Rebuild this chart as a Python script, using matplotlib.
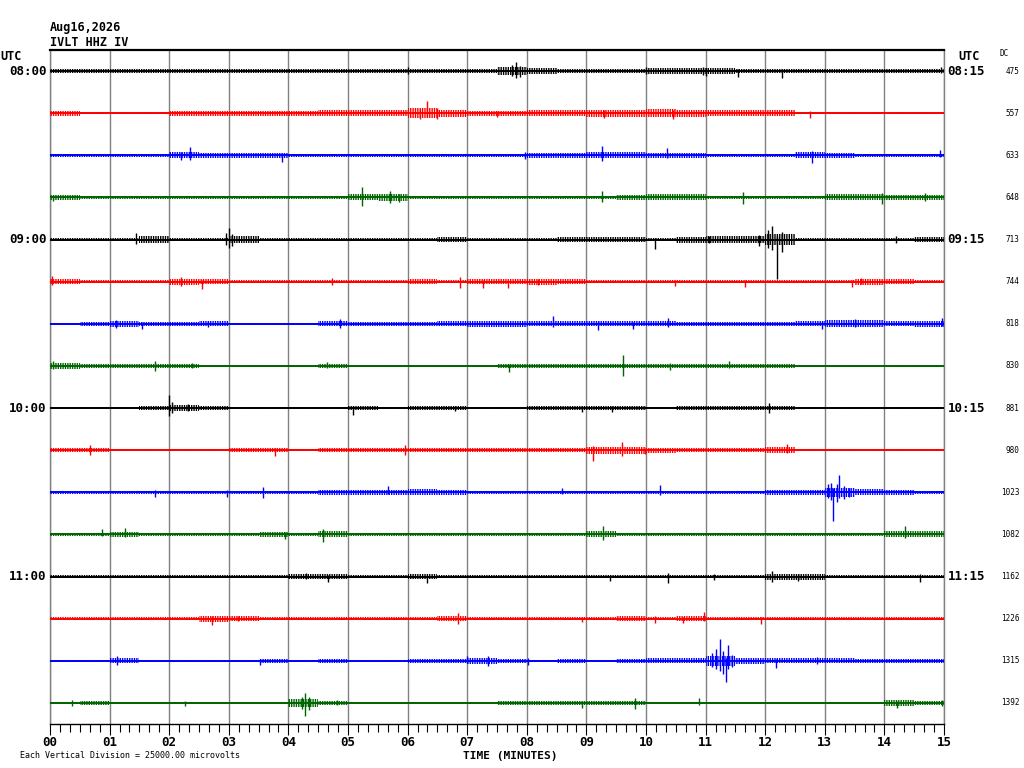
import matplotlib
matplotlib.use("Agg")
import matplotlib.pyplot as plt

# helicorder: IVLT HHZ IV, 15 minutes per line, 4 lines per hour
date_label = "Aug16,2026"
station_label = "IVLT HHZ IV"
left_hours = ["08:00", "09:00", "10:00", "11:00"]
right_hours = ["08:15", "09:15", "10:15", "11:15"]
dc_offsets = [475, 557, 633, 648, 713, 744, 818, 830,
              881, 980, 1023, 1082, 1162, 1226, 1315, 1392]
line_colors = ["black", "red", "blue", "#006400"]
minute_labels = ["%02d" % m for m in range(16)]
scale_note = "Each Vertical Division = 25000.00 microvolts"

# background noise level per half minute (30 bins per line, amplitude in px)
noise = [
    [1.5, 1.5, 1.5, 1.5, 1.5, 1.5, 2, 2, 1.5, 1.5, 1.5, 1.5, 2, 2, 2, 3.5, 2.5, 2, 2, 2, 2.5, 2.5, 2.5, 2, 2, 1.5, 1.5, 1.5, 1.5, 2],
    [2, 1, 1, 1, 2, 2, 2, 2, 2, 2.5, 2.5, 2.5, 4, 3, 2, 2, 2.5, 2.5, 3, 3, 3.5, 3, 2.5, 2.5, 2.5, 1, 1, 1, 1, 1],
    [1, 1, 1, 1, 2.5, 2, 2, 2, 1, 1, 1, 1, 1, 1, 1, 1, 2, 2, 2.5, 2.5, 2, 2, 1.5, 1.5, 1.5, 2.5, 2, 1.5, 1.5, 1.5],
    [2, 1, 1, 1, 1, 1, 1, 1, 1, 1, 2.5, 3, 1, 1, 1, 1, 1.5, 1.5, 1.5, 2, 2.5, 2.5, 1.5, 1.5, 1, 1, 2.5, 2.5, 2, 2],
    [1, 1, 1.5, 3, 1, 1, 3, 1.5, 1.5, 1.5, 1.5, 1.5, 1.5, 2, 1.5, 1.5, 1, 2, 2, 2, 1.5, 2.5, 3, 3, 4.5, 1.5, 1.5, 1.5, 1.5, 2],
    [2, 1.5, 1.5, 1.5, 2.5, 2, 1, 1, 1, 1, 1, 1, 2, 1.5, 2, 2, 2.5, 2, 1.5, 1.5, 1.5, 1.5, 1.5, 1.5, 1, 1, 1, 2.5, 2, 1.5],
    [1, 1.5, 2.5, 1.5, 1.5, 2, 1, 1, 1, 2, 1.5, 1.5, 1.5, 2, 2.5, 2.5, 2, 2, 2, 2, 2, 1.5, 1.5, 1.5, 1.5, 2, 3, 3, 2, 2.5],
    [2.5, 1.5, 1.5, 2, 1.5, 1, 1, 1, 1, 2, 1, 1, 1, 1, 1, 2, 2, 1.5, 1.5, 2, 1.5, 1.5, 2, 1.5, 1.5, 1, 1, 1, 1, 1],
    [1, 1, 1, 2, 2.5, 2, 1, 1, 1, 1, 1.5, 1, 1.5, 1.5, 1, 1, 1.5, 1.5, 1.5, 1.5, 1, 1.5, 1.5, 1.5, 2, 1, 1, 1, 1, 1],
    [1.5, 1.5, 1, 1, 1, 1, 1.5, 1.5, 1, 1.5, 1.5, 1.5, 1.5, 1.5, 1.5, 1.5, 1.5, 1.5, 3, 3, 2, 1.5, 1.5, 1.5, 2.5, 1, 1, 1, 1, 1],
    [1, 1, 1, 1, 1.5, 1.5, 1.5, 1, 1, 2, 2, 2, 2.5, 2, 1.5, 1.5, 1.5, 1.5, 1.5, 1, 1.5, 1, 1, 1, 2, 2, 4, 2.5, 2, 1.5],
    [1.5, 1.5, 2, 1.5, 1.5, 1, 1, 2, 1.5, 2.5, 1, 1, 1, 1, 1, 1, 1.5, 1.5, 2.5, 1, 1, 1, 1, 1, 1, 1, 1, 1, 2.5, 2.5],
    [1, 1, 1, 1, 1, 1, 1, 1, 2, 2, 1.5, 1.5, 2, 1.5, 1, 1, 1.5, 1.5, 1, 1, 1.5, 1.5, 1, 1, 2.5, 2.5, 1, 1, 1, 1.5],
    [1, 1, 1, 1, 1, 2.5, 2, 1, 1, 1, 1, 1, 1, 2, 1, 1, 1, 1, 1, 2, 1.5, 2, 1, 1, 1, 1, 1, 1, 1, 1],
    [1, 1, 2, 1, 1, 1, 1, 1.5, 1, 1.5, 1, 1, 1.5, 1.5, 2.5, 1.5, 1, 1.5, 1, 1.5, 2, 2, 4, 2.5, 2, 2, 2, 1.5, 1.5, 1.5],
    [1, 1.5, 1, 1, 1, 1, 1, 1, 3, 1.5, 1, 1, 1, 1, 1, 1.5, 1.5, 1.5, 1.5, 1.5, 1, 1, 1, 1, 1, 1, 1, 1, 2.5, 1.5],
]

# larger swings: (minute, up px, down px)
spikes = [
    [(6.0, 4, 3), (7.75, 6, 5), (7.82, 9, 7), (7.88, 5, 6), (10.0, 4, 3), (10.95, 4, 4),
     (11.0, 3, 5), (11.55, 2, 6), (12.28, 2, 7), (14.95, 4, 2)],
    [(6.2, 4, 6), (6.32, 12, 4), (6.5, 5, 6), (7.5, 2, 4), (9.3, 3, 5), (10.45, 3, 6), (12.75, 2, 5)],
    [(2.2, 3, 5), (2.35, 8, 5), (3.9, 2, 7), (7.97, 3, 4), (9.26, 9, 6), (10.35, 7, 3),
     (12.79, 4, 8), (14.93, 5, 2)],
    [(0.05, 2, 4), (5.23, 10, 9), (5.7, 6, 6), (5.85, 3, 5), (9.26, 6, 5), (11.63, 5, 7),
     (13.96, 4, 7), (14.68, 4, 4)],
    [(1.45, 7, 4), (2.95, 7, 5), (3.0, 12, 8), (3.05, 6, 6), (10.15, 2, 9), (11.05, 4, 3),
     (11.9, 5, 6), (12.05, 10, 8), (12.12, 14, 10), (12.2, 4, 39), (12.28, 8, 12), (14.2, 4, 3)],
    [(0.03, 6, 3), (2.2, 5, 4), (2.55, 2, 7), (4.73, 4, 3), (6.88, 5, 6), (7.27, 2, 6),
     (7.68, 2, 6), (8.19, 3, 3), (10.49, 2, 4), (11.66, 2, 5), (13.45, 2, 5), (13.6, 4, 2)],
    [(1.1, 4, 4), (1.55, 2, 5), (2.65, 3, 3), (4.87, 5, 4), (8.44, 8, 3), (9.19, 3, 6),
     (9.78, 2, 5), (10.37, 6, 3), (12.95, 3, 5), (13.5, 5, 3), (14.96, 6, 2)],
    [(0.05, 5, 3), (1.77, 5, 5), (2.38, 3, 2), (4.65, 4, 2), (7.7, 2, 6), (9.61, 11, 10),
     (10.4, 3, 4), (11.4, 5, 2)],
    [(1.99, 13, 8), (2.05, 6, 5), (2.32, 4, 3), (5.08, 2, 7), (6.79, 2, 3), (8.93, 2, 4),
     (9.43, 2, 4), (12.06, 5, 5)],
    [(0.67, 5, 5), (3.78, 2, 6), (5.95, 5, 5), (9.11, 4, 11), (9.6, 8, 6), (9.98, 2, 4), (12.36, 6, 3)],
    [(1.77, 2, 5), (2.97, 2, 5), (3.58, 5, 6), (5.67, 6, 2), (8.59, 4, 2), (10.24, 7, 3),
     (13.05, 8, 6), (13.1, 9, 8), (13.14, 4, 29), (13.2, 8, 10), (13.24, 17, 6), (13.32, 6, 7), (13.4, 4, 5)],
    [(0.87, 5, 2), (1.25, 6, 3), (3.94, 2, 5), (4.58, 5, 8), (9.28, 8, 6), (14.35, 8, 4)],
    [(4.3, 4, 2), (4.67, 2, 5), (6.32, 2, 6), (9.4, 2, 4), (10.37, 4, 6), (11.14, 3, 3),
     (12.11, 6, 5), (12.55, 3, 4), (14.6, 3, 5)],
    [(2.72, 3, 6), (3.15, 3, 2), (6.85, 6, 5), (8.93, 2, 3), (10.15, 3, 4), (10.62, 2, 4),
     (10.97, 7, 2), (11.93, 2, 5)],
    [(1.12, 5, 4), (3.52, 2, 4), (7.0, 5, 2), (7.35, 5, 5), (8.02, 3, 4), (11.1, 8, 6),
     (11.18, 12, 8), (11.24, 22, 10), (11.3, 10, 13), (11.34, 3, 21), (11.37, 16, 8),
     (11.45, 6, 6), (12.18, 2, 7), (12.87, 4, 3)],
    [(0.37, 3, 3), (2.27, 2, 3), (4.22, 6, 6), (4.28, 10, 13), (4.35, 6, 7), (4.82, 3, 2),
     (8.93, 2, 5), (9.82, 5, 6), (10.89, 5, 2), (14.21, 2, 5), (14.96, 3, 3)],
]

px = 1 / 42.13  # one pixel in line-spacing units
bin_edges = [i * 0.5 for i in range(31)]
mono = "DejaVu Sans Mono"
plt.rcParams["hatch.linewidth"] = 1.0

fig = plt.figure(figsize=(10.24, 7.68), dpi=100)
ax = fig.add_axes([50 / 1024, 1 - 724 / 768, 894 / 1024, 674 / 768])

for i in range(len(noise)):
    c = line_colors[i % 4]
    amp = [a * px * 1.2 for a in noise[i]] + [noise[i][-1] * px * 1.2]
    # hatched band gives the dense wiggle texture of the trace
    ax.fill_between(bin_edges, [-i - a for a in amp], [-i + a for a in amp],
                    step="post", facecolor="none", edgecolor=c, hatch="|||||||",
                    linewidth=0, zorder=3)
    ax.plot([0, 15], [-i, -i], color=c, linewidth=1.4, zorder=3)
    t = [s[0] for s in spikes[i]]
    ax.vlines(t, [-i - s[2] * px for s in spikes[i]], [-i + s[1] * px for s in spikes[i]],
              color=c, linewidth=1.0, zorder=3)

ax.set_xlim(0, 15)
ax.set_ylim(-15.5, 0.5)
ax.set_yticks([])
ax.set_xticks(range(16))
ax.set_xticklabels(minute_labels, fontfamily=mono, fontweight="bold", fontsize=9)
ax.set_xticks([m / 6 for m in range(91) if m % 6], minor=True)
ax.tick_params(axis="x", which="major", direction="out", length=8, width=0.8, pad=1)
ax.tick_params(axis="x", which="minor", direction="out", length=6, width=0.8)
ax.grid(axis="x", which="major", color="#808080", linewidth=1.0, zorder=1)
ax.set_axisbelow(True)
ax.spines["top"].set_linewidth(1.6)
ax.spines["bottom"].set_linewidth(1.0)
for side in ["left", "right"]:
    ax.spines[side].set_color("#808080")
    ax.spines[side].set_linewidth(1.0)

ytr = ax.get_yaxis_transform()
for k in range(4):
    ax.text(-0.004, -4 * k, left_hours[k], transform=ytr, ha="right", va="center",
            fontfamily=mono, fontweight="bold", fontsize=9)
    ax.text(1.004, -4 * k, right_hours[k], transform=ytr, ha="left", va="center",
            fontfamily=mono, fontweight="bold", fontsize=9)
for i, dc in enumerate(dc_offsets):
    ax.text(1.0845, -i, str(dc), transform=ytr, ha="right", va="center",
            fontfamily=mono, fontsize=5.5)

fig.text(50 / 1024, 1 - 27 / 768, date_label, fontfamily=mono, fontweight="bold",
         fontsize=8.5, va="center")
fig.text(50 / 1024, 1 - 42 / 768, station_label, fontfamily=mono, fontweight="bold",
         fontsize=8.5, va="center")
fig.text(0 / 1024, 1 - 57 / 768, "UTC", fontfamily=mono, fontweight="bold",
         fontsize=8.5, va="center")
fig.text(958 / 1024, 1 - 57 / 768, "UTC", fontfamily=mono, fontweight="bold",
         fontsize=8.5, va="center")
fig.text(1000 / 1024, 1 - 53 / 768, "DC", fontfamily=mono, fontsize=5.5, va="center")
fig.text(510 / 1024, 1 - 756 / 768, "TIME (MINUTES)", fontfamily=mono, fontweight="bold",
         fontsize=8, ha="center", va="center")
fig.text(20 / 1024, 1 - 756 / 768, scale_note, fontfamily=mono, fontsize=6, va="center")

fig.savefig("out.png", dpi=100)
